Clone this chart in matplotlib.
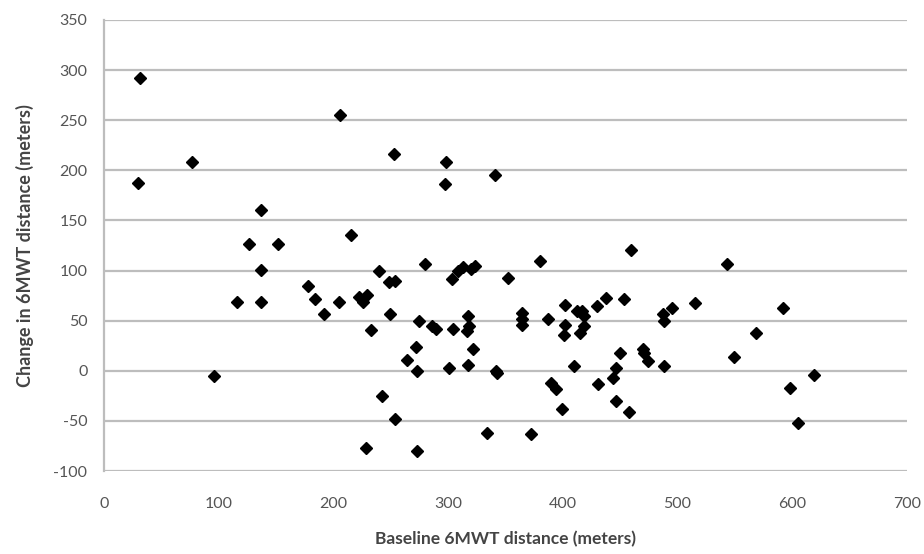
import matplotlib
matplotlib.use("Agg")
import matplotlib.pyplot as plt

plt.rcParams["axes.unicode_minus"] = False

baseline = [31, 30, 77, 96, 116, 126, 137, 137, 137, 152,
            178, 184, 192, 206, 205, 215, 222, 226, 229, 228,
            233, 240, 242, 248, 249, 253, 254, 254, 264, 272,
            273, 273, 275, 280, 286, 289, 298, 297, 301, 303,
            304, 309, 313, 316, 317, 317, 318, 320, 322, 323,
            334, 341, 342, 343, 352, 364, 364, 364, 372, 380,
            387, 390, 394, 399, 401, 402, 402, 410, 412, 415,
            417, 418, 418, 430, 431, 438, 444, 446, 446, 450,
            453, 459, 458, 470, 471, 474, 487, 488, 488, 495,
            515, 543, 549, 568, 592, 598, 605, 619]
change = [292, 187, 208, -5, 69, 127, 160, 101, 69, 127,
          85, 72, 57, 255, 69, 135, 74, 69, 76, -77,
          41, 100, -25, 89, 57, 216, 90, -48, 11, 24,
          0, -80, 50, 107, 45, 42, 208, 186, 3, 92,
          42, 100, 104, 40, 6, 55, 45, 102, 22, 105,
          -62, 195, 0, -2, 93, 58, 52, 46, -63, 110,
          52, -12, -18, -38, 36, 46, 66, 5, 60, 38,
          60, 45, 55, 65, -13, 73, -7, 3, -30, 18,
          72, 121, -41, 22, 18, 10, 57, 50, 5, 63,
          68, 107, 14, 38, 63, -17, -52, -4]

x_ticks = [0, 100, 200, 300, 400, 500, 600, 700]
y_ticks = [-100, -50, 0, 50, 100, 150, 200, 250, 300, 350]

fig = plt.figure(figsize=(9.24, 5.54), dpi=100)
ax = fig.add_axes([0.1126, 0.1498, 0.8690, 0.8141])

grid_c = "#bdbdbd"
txt_c = "#555555"
font = ["Lato", "DejaVu Sans"]

ax.plot(baseline, change, ls="none", marker="D", ms=6.2, color="black", zorder=3)

ax.set_xlim(0, 700)
ax.set_ylim(-100, 350)
ax.set_xticks(x_ticks)
ax.set_yticks(y_ticks)
ax.yaxis.grid(True, color=grid_c, lw=1.6)
ax.set_axisbelow(True)
for s in ["top", "right", "bottom"]:
    ax.spines[s].set_visible(False)
ax.spines["left"].set_color(grid_c)
ax.spines["left"].set_linewidth(1.6)
ax.tick_params(length=0, labelsize=11.5, labelcolor=txt_c)
ax.tick_params(axis="x", pad=19)
ax.tick_params(axis="y", pad=12)
for lab in ax.get_xticklabels() + ax.get_yticklabels():
    lab.set_family(font)

ax.set_xlabel("Baseline 6MWT distance (meters)", fontsize=12.5, fontweight="bold",
              color="#444444", family=font, labelpad=14)
ax.set_ylabel("Change in 6MWT distance (meters)", fontsize=13, fontweight="bold",
              color="#444444", family=font, labelpad=14)

fig.savefig("out.png", dpi=100, facecolor="white")
